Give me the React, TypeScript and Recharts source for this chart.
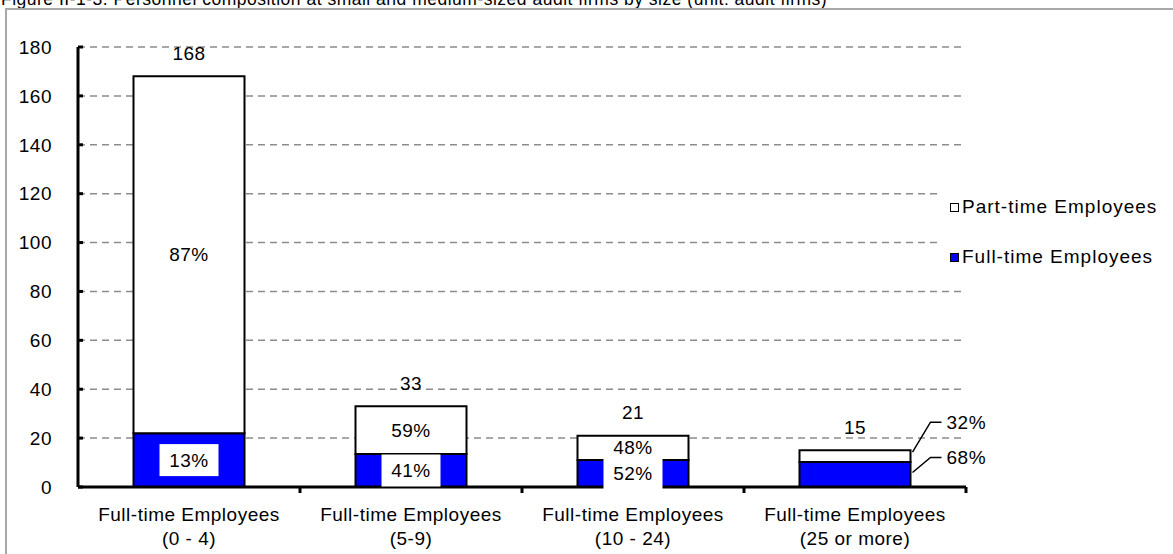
import React from 'react'
import { BarChart, Bar, XAxis, YAxis, CartesianGrid, Legend, LabelList } from 'recharts'

const categories = [
  'Full-time Employees\n(0 - 4)',
  'Full-time Employees\n(5-9)',
  'Full-time Employees\n(10 - 24)',
  'Full-time Employees\n(25 or more)',
]
const fullTime = [22, 13.5, 11, 10.2]
const partTime = [146, 19.5, 10, 4.8]
const fullPct = ['13%', '41%', '52%', '68%']
const partPct = ['87%', '59%', '48%', '32%']
const yTicks = [0, 20, 40, 60, 80, 100, 120, 140, 160, 180]
// bars whose percent labels sit outside with leader lines
const calloutIdx = [3]

const data = categories.map((name, i) => ({
  name,
  full: fullTime[i],
  part: partTime[i],
  fullPct: fullPct[i],
  partPct: partPct[i],
  total: Math.round(fullTime[i] + partTime[i]),
}))

const FONT = '"Liberation Sans", Arial, sans-serif'
const txt = { fontFamily: FONT, fontSize: 19, letterSpacing: 0.5, fill: '#000' }

const rectOf = (p: any) => {
  const vb = p.viewBox && p.viewBox.width != null ? p.viewBox : p
  return { x: +vb.x, y: +vb.y, w: +vb.width, h: +vb.height }
}

const FullLabel = (p: any) => {
  const { x, y, w, h } = rectOf(p)
  const cx = x + w / 2
  const cy = y + h / 2
  if (calloutIdx.includes(p.index)) {
    const r = x + w
    const ey = cy - 17
    return (
      <g>
        <polyline points={`${r + 2},${cy - 2} ${r + 20},${ey} ${r + 31},${ey}`} fill="none" stroke="#000" strokeWidth={1.5} />
        <text x={r + 36} y={ey} dominantBaseline="central" style={txt}>{p.value}</text>
      </g>
    )
  }
  return (
    <g>
      <rect x={cx - 29.5} y={cy - 16} width={59} height={32} fill="#fff" />
      <text x={cx} y={cy} textAnchor="middle" dominantBaseline="central" style={txt}>{p.value}</text>
    </g>
  )
}

const PartLabel = (p: any) => {
  const { x, y, w, h } = rectOf(p)
  const cx = x + w / 2
  const cy = y + h / 2
  if (calloutIdx.includes(p.index)) {
    const r = x + w
    const ey = cy - 34
    return (
      <g>
        <polyline points={`${r + 2},${cy - 4} ${r + 20},${ey} ${r + 31},${ey}`} fill="none" stroke="#000" strokeWidth={1.5} />
        <text x={r + 36} y={ey} dominantBaseline="central" style={txt}>{p.value}</text>
      </g>
    )
  }
  return <text x={cx} y={cy} textAnchor="middle" dominantBaseline="central" style={txt}>{p.value}</text>
}

const TotalLabel = (p: any) => {
  const { x, y, w } = rectOf(p)
  return (
    <text x={x + w / 2} y={y - 23} textAnchor="middle" dominantBaseline="central" style={txt}>{p.value}</text>
  )
}

const XTick = (p: any) => {
  const { x, y, payload, width } = p
  const half = payload && payload.offset > 0 ? payload.offset : width / categories.length / 2
  const lines = String(payload.value).split('\n')
  return (
    <g>
      <line x1={x + half} x2={x + half} y1={y} y2={y + 6} stroke="#000" strokeWidth={3} />
      {lines.map((l, k) => (
        <text key={k} x={x} y={y + 34 + k * 24} textAnchor="middle" style={txt}>{l}</text>
      ))}
    </g>
  )
}

const LegendBox = ({ payload }: any) => {
  const items = [...(payload || [])].reverse()
  return (
    <div style={{ background: '#fff', width: 233, height: 95, position: 'relative', fontFamily: FONT, fontSize: 19, letterSpacing: 1 }}>
      {items.map((it: any, k: number) => (
        <div key={k} style={{ position: 'absolute', left: 10, top: 22 - 11 + k * 50, display: 'flex', alignItems: 'center', height: 22, whiteSpace: 'nowrap' }}>
          <span style={{ width: 7, height: 7, border: '1.5px solid #000', background: it.color, marginRight: 3 }} />
          <span>{it.value}</span>
        </div>
      ))}
    </div>
  )
}

export default function App() {
  return (
    <div style={{ position: 'fixed', left: 0, top: 0, width: 1173, height: 554, overflow: 'hidden', background: '#fff', fontFamily: FONT }}>
      <div style={{ position: 'absolute', left: 1, top: -12, fontSize: 17.5, letterSpacing: 0.5, lineHeight: '22px', whiteSpace: 'nowrap', color: '#000' }}>
        Figure II-1-3. Personnel composition at small and medium-sized audit firms by size (unit: audit firms)
      </div>
      <div style={{ position: 'absolute', left: 5, top: 8, width: 1300, height: 700, border: '2px solid #a8a8a8' }} />
      <div style={{ position: 'absolute', left: 0, top: 0 }}>
        <BarChart width={1173} height={554} data={data} margin={{ top: 47, right: 207, left: 18, bottom: 7 }} barCategoryGap="25%">
          <CartesianGrid vertical={false} stroke="#8c8c8c" strokeWidth={1.5} strokeDasharray="7 5" />
          <XAxis
            dataKey="name"
            height={60}
            axisLine={{ stroke: '#000', strokeWidth: 3 }}
            tickLine={false}
            tickSize={0}
            tickMargin={0}
            interval={0}
            tick={<XTick />}
          />
          <YAxis
            width={60}
            domain={[0, 180]}
            ticks={yTicks}
            interval={0}
            axisLine={{ stroke: '#000', strokeWidth: 3 }}
            tickLine={{ stroke: '#000', strokeWidth: 3 }}
            tickSize={-5}
            tickMargin={31}
            tick={{ fontFamily: FONT, fontSize: 19, letterSpacing: 0.5, fill: '#000' }}
          />
          <Legend
            layout="vertical"
            align="center"
            verticalAlign="middle"
            wrapperStyle={{ left: 940, top: 185, width: 233 }}
            content={<LegendBox />}
          />
          <Bar dataKey="full" name="Full-time Employees" stackId="a" fill="#0000ff" stroke="#000" strokeWidth={2} isAnimationActive={false}>
            <LabelList dataKey="fullPct" content={FullLabel} />
          </Bar>
          <Bar dataKey="part" name="Part-time Employees" stackId="a" fill="#ffffff" stroke="#000" strokeWidth={2} isAnimationActive={false}>
            <LabelList dataKey="partPct" content={PartLabel} />
            <LabelList dataKey="total" content={TotalLabel} />
          </Bar>
        </BarChart>
      </div>
    </div>
  )
}
